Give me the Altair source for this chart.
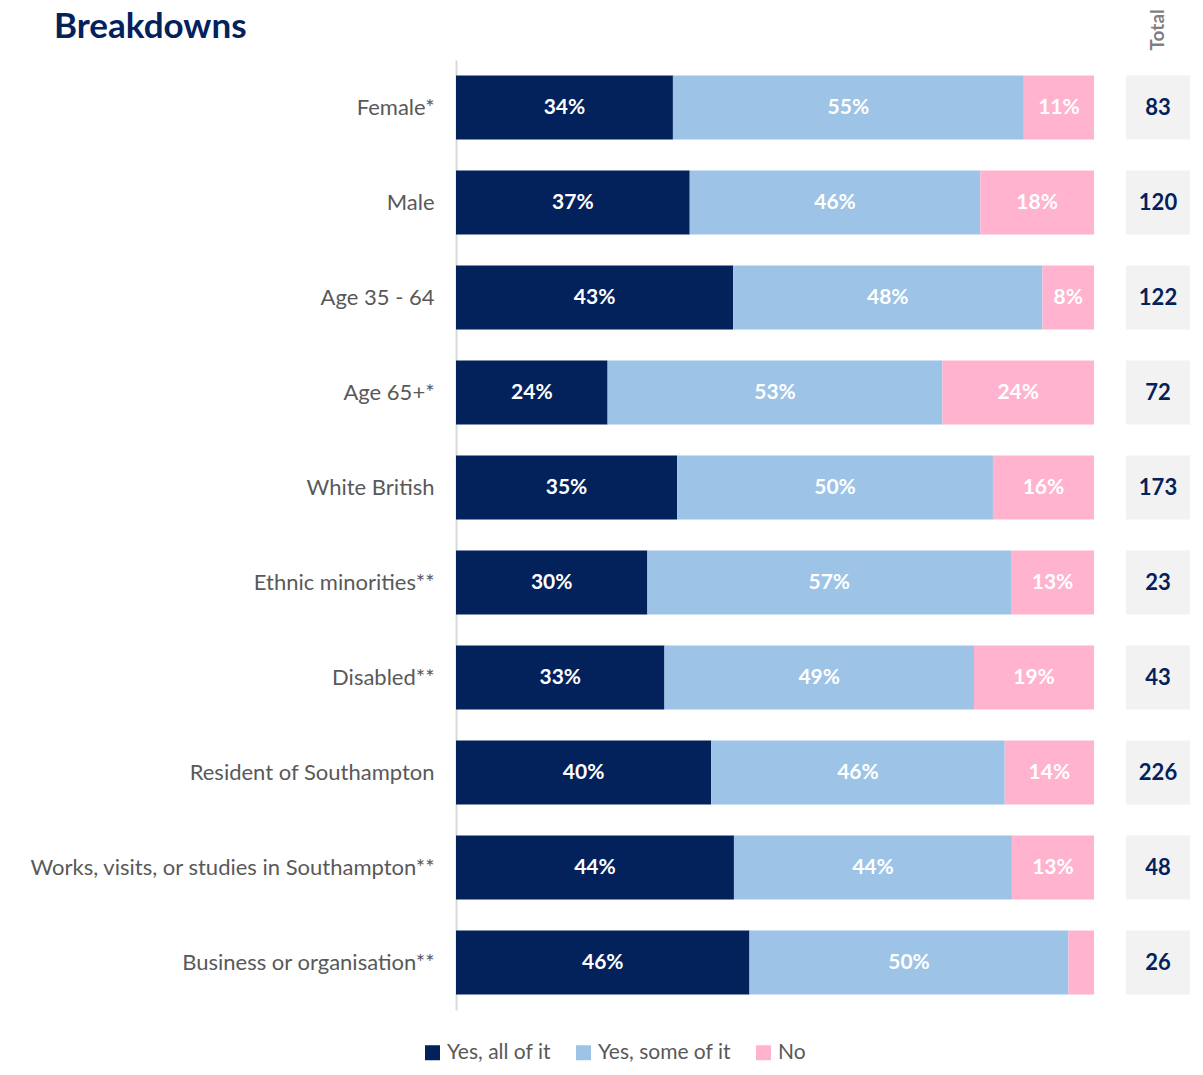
import altair as alt
import pandas as pd

groups = [
    "Female*",
    "Male",
    "Age 35 - 64",
    "Age 65+*",
    "White British",
    "Ethnic minorities**",
    "Disabled**",
    "Resident of Southampton",
    "Works, visits, or studies in Southampton**",
    "Business or organisation**",
]
yes_all = [34, 37, 43, 24, 35, 30, 33, 40, 44, 46]
yes_some = [55, 46, 48, 53, 50, 57, 49, 46, 44, 50]
no = [11, 18, 8, 24, 16, 13, 19, 14, 13, 4]
totals = [83, 120, 122, 72, 173, 23, 43, 226, 48, 26]
responses = ["Yes, all of it", "Yes, some of it", "No"]
colors = ["#03215B", "#9DC3E6", "#FFB3CE"]

rows = []
for i, g in enumerate(groups):
    for k, (r, vals) in enumerate(zip(responses, [yes_all, yes_some, no])):
        rows.append({"group": g, "response": r, "value": vals[i], "order": k})
df = pd.DataFrame(rows)
tot = pd.DataFrame({"group": groups, "total": totals, "col": ["Total"] * len(groups)})

FONT = "Lato"
NAVY = "#03215B"
GREY = "#595959"

yscale = alt.Scale(paddingInner=0.326, paddingOuter=0.163)

base = alt.Chart(df).transform_stack(
    stack="value",
    groupby=["group"],
    as_=["x0", "x1"],
    offset="normalize",
    sort=[alt.SortField("order", order="ascending")],
)

bars = base.mark_bar().encode(
    x=alt.X("x0:Q", axis=None, scale=alt.Scale(domain=[0, 1], nice=False)),
    x2="x1:Q",
    y=alt.Y(
        "group:N",
        sort=groups,
        title=None,
        scale=yscale,
        axis=alt.Axis(
            ticks=False,
            domainColor="#D9D9D9",
            domainWidth=2,
            labelColor=GREY,
            labelFont=FONT,
            labelFontSize=22,
            labelPadding=22,
            labelLimit=600,
        ),
    ),
    color=alt.Color(
        "response:N",
        scale=alt.Scale(domain=responses, range=colors),
        sort=responses,
        legend=alt.Legend(
            title=None,
            orient="none",
            direction="horizontal",
            legendX=-34,
            legendY=982,
            padding=0,
            symbolType="square",
            symbolSize=225,
            symbolStrokeWidth=0,
            labelFont=FONT,
            labelFontSize=21,
            labelColor=GREY,
            columnPadding=22,
            symbolOffset=0,
            labelOffset=4,
        ),
    ),
    order=alt.Order("order:Q"),
)

labels = (
    base.transform_filter("datum.value >= 5")
    .transform_calculate(mid="(datum.x0 + datum.x1) / 2", lbl="datum.value + '%'")
    .mark_text(color="white", fontWeight="bold", fontSize=21, font=FONT)
    .encode(
        x=alt.X("mid:Q"),
        y=alt.Y("group:N", sort=groups, scale=yscale),
        text="lbl:N",
    )
)

left = alt.layer(bars, labels).properties(
    width=638,
    height=950,
    title=alt.TitleParams(
        "Breakdowns",
        anchor="start",
        frame="group",
        font=FONT,
        fontSize=35,
        fontWeight="bold",
        color=NAVY,
        dx=-402,
        offset=15,
    ),
)

boxes = alt.Chart(tot).mark_rect(color="#F2F2F2").encode(
    x=alt.X(
        "col:N",
        title=None,
        scale=alt.Scale(paddingInner=0, paddingOuter=0),
        axis=alt.Axis(
            orient="top",
            labelAngle=270,
            ticks=False,
            domain=False,
            labelColor="#7F7F7F",
            labelFont=FONT,
            labelFontSize=19,
            labelFontWeight="bold",
            labelPadding=10,
        ),
    ),
    y=alt.Y("group:N", sort=groups, axis=None, scale=yscale),
)
tot_text = alt.Chart(tot).mark_text(
    color=NAVY, fontWeight="bold", fontSize=22, font=FONT
).encode(
    x=alt.X("col:N"),
    y=alt.Y("group:N", sort=groups),
    text="total:Q",
)
right = alt.layer(boxes, tot_text).properties(width=64, height=950)

chart = (
    alt.hconcat(left, right, spacing=32)
    .properties(padding={"left": 21, "top": 0, "right": 5, "bottom": 0})
    .configure_view(stroke=None)
    .configure_concat(spacing=32)
)

chart.save("out.html", embed_options={"renderer": "svg", "actions": False})
